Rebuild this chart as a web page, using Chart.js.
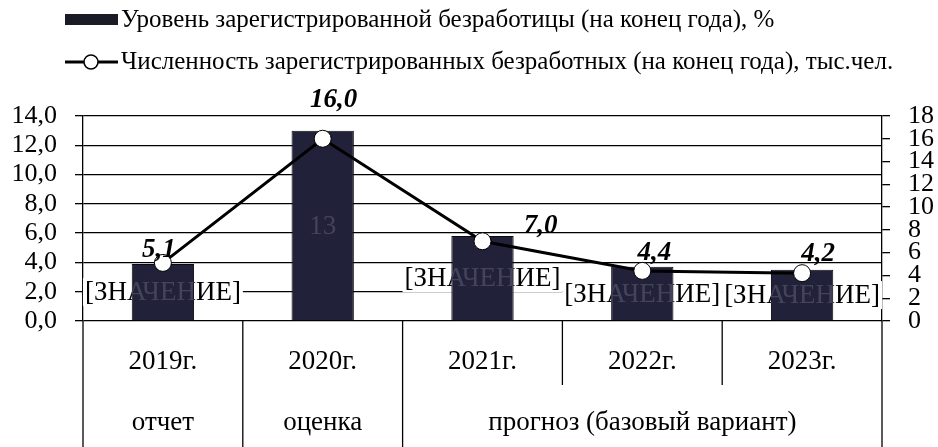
<!DOCTYPE html>
<html>
<head>
<meta charset="utf-8">
<script src="https://cdn.jsdelivr.net/npm/chart.js@4.4.1/dist/chart.umd.min.js"></script>
<style>
  html, body { margin: 0; padding: 0; background: #fff; }
  #wrap { width: 938px; height: 447px; }
</style>
</head>
<body>
<div id="wrap"><canvas id="chart"></canvas></div>
<script>
// данные
const years = ['2019г.', '2020г.', '2021г.', '2022г.', '2023г.'];
const rateValues = [3.9, 13.0, 5.8, 3.7, 3.5];
const rateLabels = ['[ЗНАЧЕНИЕ]', '13', '[ЗНАЧЕНИЕ]', '[ЗНАЧЕНИЕ]', '[ЗНАЧЕНИЕ]'];
const countValues = [5.1, 16.0, 7.0, 4.4, 4.2];
const countLabels = ['5,1', '16,0', '7,0', '4,4', '4,2'];
const groupNames = ['отчет', 'оценка', 'прогноз (базовый вариант)'];
const groupSizes = [1, 1, 3];
const seriesNames = [
    'Уровень зарегистрированной безработицы (на конец года), %',
    'Численность зарегистрированных безработных (на конец года), тыс.чел.'
];

const SERIF = "'Liberation Serif', 'Times New Roman', serif";
Chart.defaults.font.family = SERIF;
Chart.defaults.color = '#000';

const barFill = function(context) {
    const chart = context.chart;
    const el = chart.getDatasetMeta(context.datasetIndex).data[context.dataIndex];
    if (!el || !chart.chartArea || isNaN(el.x) || !el.width) return '#22213a';
    const g = chart.ctx.createLinearGradient(el.x - el.width / 2, 0, el.x + el.width / 2, 0);
    g.addColorStop(0, '#0d0d15');
    g.addColorStop(0.18, '#27263c');
    g.addColorStop(0.5, '#34324b');
    g.addColorStop(0.82, '#27263c');
    g.addColorStop(1, '#0d0d15');
    return g;
};

// подписи столбцов: белая плашка под столбцом
const barLabelsBelow = {
    id: 'barLabelsBelow',
    beforeDatasetsDraw(chart) {
        const ctx = chart.ctx;
        const meta = chart.getDatasetMeta(1);
        ctx.save();
        ctx.font = '27px ' + SERIF;
        ctx.textAlign = 'center';
        ctx.textBaseline = 'middle';
        meta.data.forEach((bar, i) => {
            const txt = rateLabels[i];
            const cy = (bar.y + bar.base) / 2;
            if (txt.startsWith('[')) {
                const w = ctx.measureText(txt).width;
                ctx.fillStyle = '#fff';
                ctx.fillRect(bar.x - w / 2 - 2, cy - 14, w + 4, 28);
                ctx.fillStyle = '#000';
                ctx.fillText(txt, bar.x, cy + 1);
            }
        });
        ctx.restore();
    },
    afterDatasetDraw(chart, args) {
        if (args.index !== 1) return;
        const ctx = chart.ctx;
        ctx.save();
        ctx.font = '27px ' + SERIF;
        ctx.textAlign = 'center';
        ctx.textBaseline = 'middle';
        args.meta.data.forEach((bar, i) => {
            const cy = (bar.y + bar.base) / 2;
            ctx.save();
            ctx.beginPath();
            ctx.rect(bar.x - bar.width / 2, bar.y, bar.width, bar.base - bar.y);
            ctx.clip();
            ctx.fillStyle = '#454359';
            ctx.fillText(rateLabels[i], bar.x, cy + 1);
            ctx.restore();
        });
        ctx.restore();
    }
};

// подписи линии
const lineLabels = {
    id: 'lineLabels',
    afterDatasetsDraw(chart, args, opts) {
        const ctx = chart.ctx;
        const meta = chart.getDatasetMeta(0);
        ctx.save();
        ctx.font = 'italic bold 27px ' + SERIF;
        ctx.textAlign = 'center';
        ctx.textBaseline = 'alphabetic';
        ctx.fillStyle = '#000';
        meta.data.forEach((pt, i) => {
            const off = opts.offsets[i];
            ctx.fillText(countLabels[i], pt.x + off[0], pt.y + off[1]);
        });
        ctx.restore();
    }
};

// таблица под осью X и легенда
const tableAndLegend = {
    id: 'tableAndLegend',
    afterDraw(chart) {
        const ctx = chart.ctx;
        const area = chart.chartArea;
        const x = chart.scales.x;
        const H = chart.height;
        const n = years.length;
        const step = (area.right - area.left) / n;
        const groupEdges = [0];
        groupSizes.forEach(s => groupEdges.push(groupEdges[groupEdges.length - 1] + s));

        ctx.save();
        ctx.strokeStyle = '#000';
        ctx.lineWidth = 1.3;
        for (let i = 0; i <= n; i++) {
            const px = i === 0 ? area.left : (i === n ? area.right : (x.getPixelForValue(i - 1) + x.getPixelForValue(i)) / 2);
            const full = groupEdges.includes(i);
            ctx.beginPath();
            ctx.moveTo(px, area.bottom);
            ctx.lineTo(px, full ? H : area.bottom + 64);
            ctx.stroke();
        }

        ctx.font = '27px ' + SERIF;
        ctx.fillStyle = '#000';
        ctx.textAlign = 'center';
        ctx.textBaseline = 'middle';
        groupNames.forEach((name, g) => {
            const a = area.left + groupEdges[g] * step;
            const b = area.left + groupEdges[g + 1] * step;
            ctx.fillText(name, (a + b) / 2, 423);
        });

        // легенда
        ctx.textAlign = 'left';
        ctx.font = '25px ' + SERIF;
        ctx.fillStyle = '#1b1a27';
        ctx.fillRect(65, 14, 53, 11);
        ctx.fillStyle = '#000';
        ctx.fillText(seriesNames[0], 121, 20);

        ctx.lineWidth = 3;
        ctx.beginPath();
        ctx.moveTo(65, 62);
        ctx.lineTo(118, 62);
        ctx.stroke();
        ctx.beginPath();
        ctx.arc(91, 62, 7, 0, Math.PI * 2);
        ctx.fillStyle = '#fff';
        ctx.fill();
        ctx.lineWidth = 1.5;
        ctx.stroke();
        ctx.fillStyle = '#000';
        ctx.fillText(seriesNames[1], 121, 62);
        ctx.restore();
    }
};

const ctx = document.getElementById('chart').getContext('2d');
new Chart(ctx, {
    type: 'bar',
    data: {
        labels: years,
        datasets: [{
            type: 'line',
            label: seriesNames[1],
            data: countValues,
            yAxisID: 'y1',
            borderColor: '#000',
            borderWidth: 3,
            pointRadius: 8.5,
            pointBackgroundColor: '#fff',
            pointBorderColor: '#000',
            pointBorderWidth: 1,
            tension: 0,
            order: 1
        }, {
            type: 'bar',
            label: seriesNames[0],
            data: rateValues,
            yAxisID: 'y',
            backgroundColor: barFill,
            borderColor: '#0a0a10',
            borderWidth: 1,
            barPercentage: 0.39,
            categoryPercentage: 1.0,
            order: 2
        }]
    },
    options: {
        responsive: true,
        maintainAspectRatio: false,
        animation: false,
        layout: { padding: { top: 116, left: 0, right: 0, bottom: 0 } },
        plugins: {
            legend: { display: false },
            tooltip: { enabled: false },
            lineLabels: {
                offsets: [[-4, -6], [11, -32], [58, -8], [12, -11], [16, -12]]
            }
        },
        scales: {
            x: {
                offset: true,
                grid: { display: false },
                border: { display: false },
                ticks: {
                    font: { size: 27 },
                    padding: 17,
                    maxRotation: 0,
                    autoSkip: false
                },
                afterFit(scale) { scale.height = 126; }
            },
            y: {
                position: 'left',
                min: 0,
                max: 14,
                grid: { color: '#000', lineWidth: 1.3, tickLength: 8 },
                border: { color: '#000', width: 1.3 },
                ticks: {
                    stepSize: 2,
                    autoSkip: false,
                    font: { size: 26 },
                    padding: 18,
                    callback: v => v.toFixed(1).replace('.', ',')
                },
                afterFit(scale) { scale.width = 83; }
            },
            y1: {
                position: 'right',
                min: 0,
                max: 18,
                grid: { drawOnChartArea: false, color: '#000', lineWidth: 1.3, tickLength: 8 },
                border: { color: '#000', width: 1.3 },
                ticks: {
                    stepSize: 2,
                    autoSkip: false,
                    font: { size: 26 },
                    padding: 18
                },
                afterFit(scale) { scale.width = 56; }
            }
        }
    },
    plugins: [barLabelsBelow, lineLabels, tableAndLegend]
});
</script>
</body>
</html>
